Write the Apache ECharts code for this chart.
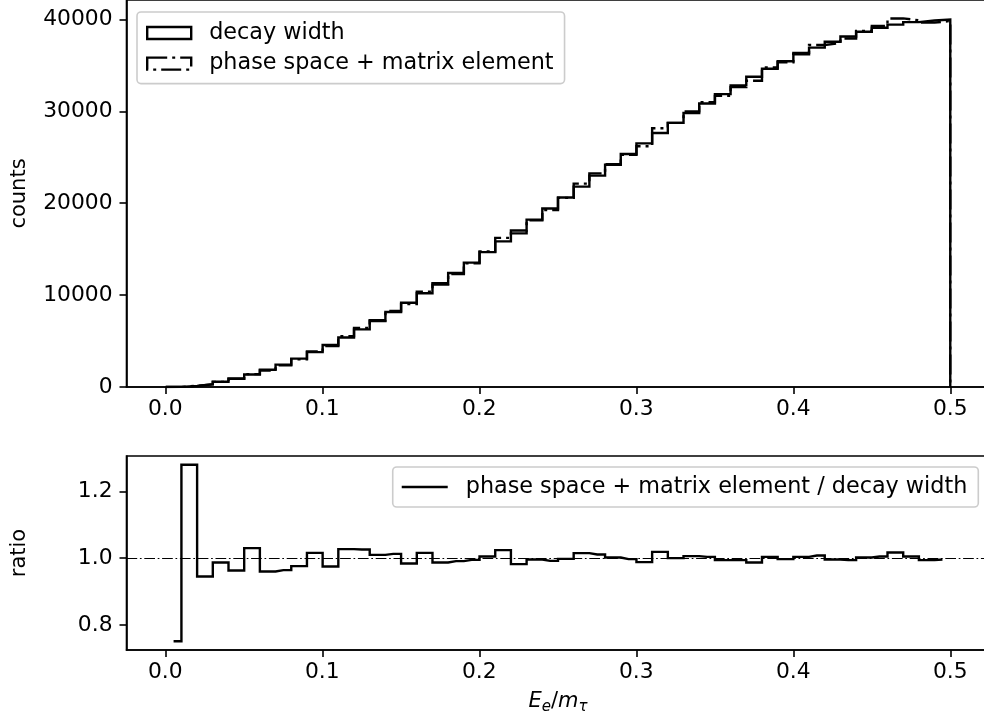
<!DOCTYPE html>
<html><head><meta charset="utf-8">
<script src="https://cdn.jsdelivr.net/npm/echarts@6/dist/echarts.min.js"></script>
<style>html,body{margin:0;padding:0;background:#fff}#c{width:984px;height:721px}</style>
</head><body><div id="c"></div>
<script>
// ---- data ----
const binEdges = [0.00029, 0.01028, 0.02028, 0.03027, 0.04027, 0.05026, 0.06025, 0.07025, 0.08024, 0.09024,
  0.10023, 0.11022, 0.12022, 0.13021, 0.14021, 0.15020, 0.16020, 0.17019, 0.18018, 0.19018,
  0.20017, 0.21017, 0.22016, 0.23015, 0.24015, 0.25014, 0.26014, 0.27013, 0.28013, 0.29012,
  0.30011, 0.31011, 0.32010, 0.33010, 0.34009, 0.35009, 0.36008, 0.37007, 0.38007, 0.39006,
  0.40006, 0.41005, 0.42005, 0.43004, 0.44003, 0.45003, 0.46002, 0.47002, 0.48001, 0.49001, 0.50000];

const decayWidth = [12, 110, 300, 570, 920, 1360, 1870, 2440, 3090, 3800,
  4570, 5390, 6270, 7190, 8160, 9170, 10210, 11290, 12400, 13530,
  14680, 15850, 17030, 18220, 19420, 20620, 21810, 23000, 24190, 25350,
  26510, 27640, 28740, 29820, 30860, 31870, 32830, 33760, 34630, 35450,
  36220, 36930, 37570, 38150, 38660, 39090, 39440, 39710, 39890, 39990];

const phaseSpaceME = [9, 141, 284, 563, 886, 1401, 1795, 2352, 3016, 3861,
  4456, 5536, 6433, 7262, 8266, 9023, 10373, 11143, 12288, 13462,
  14753, 16230, 16723, 18147, 19265, 20579, 22137, 23253, 24238, 25274,
  26192, 28165, 28740, 29999, 30983, 31679, 32633, 33321, 34769, 35344,
  36365, 37225, 37420, 37921, 38737, 39285, 40110, 39909, 39651, 39830];

const ratio = [0.751, 1.28, 0.945, 0.987, 0.963, 1.030, 0.960, 0.964, 0.976, 1.016,
  0.975, 1.027, 1.026, 1.010, 1.013, 0.984, 1.016, 0.987, 0.991, 0.995,
  1.005, 1.024, 0.982, 0.996, 0.992, 0.998, 1.015, 1.011, 1.002, 0.997,
  0.988, 1.019, 1.000, 1.006, 1.004, 0.994, 0.994, 0.987, 1.004, 0.997,
  1.004, 1.008, 0.996, 0.994, 1.002, 1.005, 1.017, 1.005, 0.994, 0.996];

const xTicks = [0, 0.1, 0.2, 0.3, 0.4, 0.5];
const countTicks = [0, 10000, 20000, 30000, 40000];
const ratioTicks = [0.8, 1.0, 1.2];
const refRatio = 1.0;

const nameDW = 'decay width';
const namePM = 'phase space + matrix element';
const nameRatio = 'phase space + matrix element / decay width';

// axis limits (matplotlib-style 5% margins)
const xMin = -0.0247, xMax = 0.52499;
const countMax = 42116;
const ratioMin = 0.72455, ratioMax = 1.30645;

// ---- build paths ----
function histPath(edges, counts) {
  const pts = [[edges[0], 0]];
  counts.forEach((c, i) => { pts.push([edges[i], c]); pts.push([edges[i + 1], c]); });
  pts.push([edges[edges.length - 1], 0]);
  return pts;
}
const centers = binEdges.slice(0, -1).map((e, i) => (e + binEdges[i + 1]) / 2);
const ratioData = centers.map((c, i) => [c, ratio[i]]);

const FONT = 'DejaVu Sans';
const black = '#000';
const LW = 2.4;
const TICKFS = 21.8;
const dashDot = [20, 5, 3, 5];

function xAxisCfg(idx, extra) {
  return Object.assign({
    type: 'value', gridIndex: idx, min: xMin, max: xMax,
    axisLine: { show: true, onZero: false, lineStyle: { color: black, width: 1.6 } },
    axisTick: { show: true, customValues: xTicks, length: 7, inside: false, lineStyle: { color: black, width: 1.6 } },
    axisLabel: { customValues: xTicks, formatter: v => v.toFixed(1), color: black, fontSize: TICKFS, fontFamily: FONT, margin: 11 },
    splitLine: { show: false }
  }, extra || {});
}
function yAxisCfg(idx, min, max, ticks, fmt, name) {
  return {
    type: 'value', gridIndex: idx, min: min, max: max,
    name: name, nameLocation: 'middle', nameGap: 96,
    nameTextStyle: { color: black, fontSize: 21, fontFamily: FONT },
    axisLine: { show: true, onZero: false, lineStyle: { color: black, width: 1.6 } },
    axisTick: { show: true, customValues: ticks, length: 7, inside: false, lineStyle: { color: black, width: 1.6 } },
    axisLabel: { customValues: ticks, formatter: fmt, color: black, fontSize: TICKFS, fontFamily: FONT, margin: 14 },
    splitLine: { show: false }
  };
}

const chart = echarts.init(document.getElementById('c'), null, { renderer: 'canvas' });
chart.setOption({
  animation: false,
  backgroundColor: '#fff',
  textStyle: { fontFamily: FONT },
  grid: [
    { left: 126.5, top: 0, width: 863, height: 387, show: true, borderColor: black, borderWidth: 1.6, outerBoundsMode: 'none', containLabel: false },
    { left: 126.5, top: 456, width: 863, height: 194, show: true, borderColor: black, borderWidth: 1.6, outerBoundsMode: 'none', containLabel: false }
  ],
  xAxis: [
    xAxisCfg(0),
    xAxisCfg(1, {
      name: '{i|E}{s|e}{n|/}{i|m}{s|τ}', nameLocation: 'middle', nameGap: 39,
      nameTextStyle: {
        color: black, fontSize: 21, fontFamily: FONT,
        rich: {
          i: { fontStyle: 'italic', fontSize: 21, fontFamily: FONT, color: black, lineHeight: 26 },
          n: { fontSize: 21, fontFamily: FONT, color: black, lineHeight: 26 },
          s: { fontStyle: 'italic', fontSize: 15, fontFamily: FONT, color: black, verticalAlign: 'bottom', lineHeight: 15 }
        }
      }
    })
  ],
  yAxis: [
    yAxisCfg(0, 0, countMax, countTicks, v => String(Math.round(v)), 'counts'),
    yAxisCfg(1, ratioMin, ratioMax, ratioTicks, v => v.toFixed(1), 'ratio')
  ],
  legend: [
    {
      orient: 'vertical', left: 137, top: 12, padding: [9, 11, 8, 9],
      itemWidth: 44, itemHeight: 12, itemGap: 6.6,
      backgroundColor: 'rgba(255,255,255,0.8)', borderColor: '#cccccc', borderWidth: 1.6, borderRadius: 4,
      selectedMode: false,
      textStyle: { fontSize: 22.3, color: black, fontFamily: FONT, lineHeight: 24, padding: [0, 0, 0, 13] },
      data: [
        { name: nameDW, icon: 'rect', itemStyle: { color: 'rgba(0,0,0,0)', borderColor: black, borderWidth: LW, borderType: 'solid' } },
        { name: namePM, icon: 'rect', itemStyle: { color: 'rgba(0,0,0,0)', borderColor: black, borderWidth: LW, borderType: dashDot } }
      ]
    },
    {
      orient: 'horizontal', right: 5.7, top: 467, padding: [8, 11, 8, 9],
      itemWidth: 46, itemHeight: 2.5,
      backgroundColor: 'rgba(255,255,255,0.8)', borderColor: '#cccccc', borderWidth: 1.6, borderRadius: 4,
      selectedMode: false,
      textStyle: { fontSize: 22.3, color: black, fontFamily: FONT, lineHeight: 24, padding: [0, 0, 0, 13] },
      data: [
        { name: nameRatio, icon: 'rect', itemStyle: { color: black, borderWidth: 0 } }
      ]
    }
  ],
  series: [
    {
      name: nameDW, type: 'line', xAxisIndex: 0, yAxisIndex: 0,
      data: histPath(binEdges, decayWidth), symbol: 'none', showSymbol: false,
      itemStyle: { color: black }, lineStyle: { color: black, width: LW, join: 'miter', cap: 'butt' }, z: 2
    },
    {
      name: namePM, type: 'line', xAxisIndex: 0, yAxisIndex: 0,
      data: histPath(binEdges, phaseSpaceME), symbol: 'none', showSymbol: false,
      itemStyle: { color: black }, lineStyle: { color: black, width: LW, type: dashDot, join: 'miter', cap: 'butt' }, z: 3
    },
    {
      name: nameRatio, type: 'line', xAxisIndex: 1, yAxisIndex: 1,
      data: ratioData, step: 'middle', symbol: 'none', showSymbol: false,
      itemStyle: { color: black }, lineStyle: { color: black, width: LW, join: 'miter' }, z: 2,
      markLine: {
        silent: true, symbol: ['none', 'none'], label: { show: false },
        lineStyle: { color: black, width: 1.2, type: [10.7, 2.7, 1.7, 2.7] },
        emphasis: { disabled: true },
        data: [{ yAxis: refRatio }]
      }
    }
  ]
});
</script>
</body></html>
